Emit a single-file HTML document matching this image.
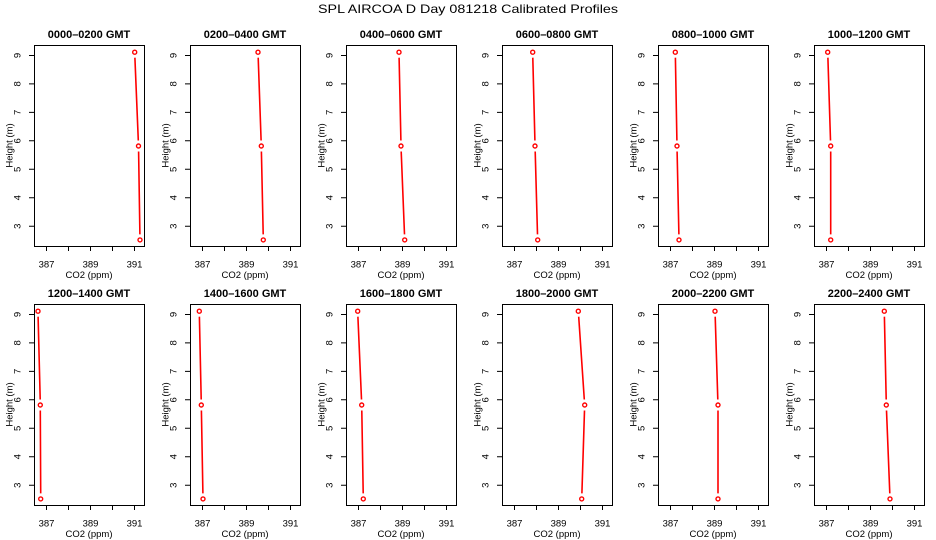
<!DOCTYPE html>
<html><head><meta charset="utf-8"><style>
html,body{margin:0;padding:0;background:#fff;}
svg{display:block;}
text{font-family:"Liberation Sans",Arial,sans-serif;fill:#000;}
.t{font-weight:bold;font-size:11px;text-anchor:middle;}
.a{font-size:9.5px;text-anchor:middle;}
.box{fill:none;stroke:#000;stroke-width:1;}
.tk{stroke:#000;stroke-width:1;}
.ln{stroke:#f00;stroke-width:1.6;fill:none;}
.pt{stroke:#f00;stroke-width:1.4;fill:none;}
</style></head><body>
<svg width="936" height="540" viewBox="0 0 936 540" xmlns="http://www.w3.org/2000/svg">
<rect width="936" height="540" fill="#fff"/>
<text x="468" y="13" style="font-size:12px;text-anchor:middle" textLength="300" lengthAdjust="spacingAndGlyphs">SPL AIRCOA D  Day 081218  Calibrated Profiles</text>

<defs>
<g id="frame">
<rect class="box" x="34.5" y="45.5" width="110" height="201"/>
<path class="tk" d="M46.5 246v5M68.5 246v5M90.5 246v5M112.5 246v5M134.5 246v5M29 55.5h5M29 83.9h5M29 112.4h5M29 140.8h5M29 169.3h5M29 197.7h5M29 226.2h5"/>
<text class="a" x="46.5" y="267.5">387</text>
<text class="a" x="90.5" y="267.5">389</text>
<text class="a" x="134.5" y="267.5">391</text>
<text class="a" x="89" y="278">CO2 (ppm)</text>
<text class="a" transform="translate(17,55.5) rotate(-90)" dy="0.35em">9</text>
<text class="a" transform="translate(17,83.9) rotate(-90)" dy="0.35em">8</text>
<text class="a" transform="translate(17,112.4) rotate(-90)" dy="0.35em">7</text>
<text class="a" transform="translate(17,140.8) rotate(-90)" dy="0.35em">6</text>
<text class="a" transform="translate(17,169.3) rotate(-90)" dy="0.35em">5</text>
<text class="a" transform="translate(17,197.7) rotate(-90)" dy="0.35em">4</text>
<text class="a" transform="translate(17,226.2) rotate(-90)" dy="0.35em">3</text>
<text class="a" transform="translate(9,145.5) rotate(-90)" dy="0.35em">Height (m)</text>
</g>
</defs>

<!-- Row 1 -->
<g transform="translate(0,0)">
<use href="#frame"/>
<text class="t" x="89" y="38">0000–0200 GMT</text>
<path class="ln" d="M134.9 57.7L138.3 140.5M138.6 151.5L139.9 234.4"/>
<circle class="pt" cx="134.7" cy="52.2" r="2"/><circle class="pt" cx="138.5" cy="146" r="2"/><circle class="pt" cx="140" cy="239.9" r="2"/>
</g>
<g transform="translate(156,0)">
<use href="#frame"/>
<text class="t" x="89" y="38">0200–0400 GMT</text>
<path class="ln" d="M102.2 57.7L105.1 140.5M105.4 151.5L107.2 234.4"/>
<circle class="pt" cx="102" cy="52.2" r="2"/><circle class="pt" cx="105.3" cy="146" r="2"/><circle class="pt" cx="107.3" cy="239.9" r="2"/>
</g>
<g transform="translate(312,0)">
<use href="#frame"/>
<text class="t" x="89" y="38">0400–0600 GMT</text>
<path class="ln" d="M87.1 57.7L88.9 140.5M89.2 151.5L92.5 234.4"/>
<circle class="pt" cx="87" cy="52.2" r="2"/><circle class="pt" cx="89" cy="146" r="2"/><circle class="pt" cx="92.7" cy="239.9" r="2"/>
</g>
<g transform="translate(468,0)">
<use href="#frame"/>
<text class="t" x="89" y="38">0600–0800 GMT</text>
<path class="ln" d="M64.8 57.7L66.9 140.5M67.2 151.5L69.5 234.4"/>
<circle class="pt" cx="64.7" cy="52.2" r="2"/><circle class="pt" cx="67" cy="146" r="2"/><circle class="pt" cx="69.7" cy="239.9" r="2"/>
</g>
<g transform="translate(624,0)">
<use href="#frame"/>
<text class="t" x="89" y="38">0800–1000 GMT</text>
<path class="ln" d="M51.4 57.7L52.9 140.5M53.1 151.5L54.9 234.4"/>
<circle class="pt" cx="51.3" cy="52.2" r="2"/><circle class="pt" cx="53" cy="146" r="2"/><circle class="pt" cx="55" cy="239.9" r="2"/>
</g>
<g transform="translate(780,0)">
<use href="#frame"/>
<text class="t" x="89" y="38">1000–1200 GMT</text>
<path class="ln" d="M47.9 57.7L50.5 140.5M50.7 151.5L50.7 234.4"/>
<circle class="pt" cx="47.7" cy="52.2" r="2"/><circle class="pt" cx="50.7" cy="146" r="2"/><circle class="pt" cx="50.7" cy="239.9" r="2"/>
</g>

<!-- Row 2 -->
<g transform="translate(0,259)">
<use href="#frame"/>
<text class="t" x="89" y="38">1200–1400 GMT</text>
<path class="ln" d="M38.1 57.7L40.2 140.5M40.3 151.5L40.7 234.4"/>
<circle class="pt" cx="38" cy="52.2" r="2"/><circle class="pt" cx="40.3" cy="146" r="2"/><circle class="pt" cx="40.7" cy="239.9" r="2"/>
</g>
<g transform="translate(156,259)">
<use href="#frame"/>
<text class="t" x="89" y="38">1400–1600 GMT</text>
<path class="ln" d="M43.4 57.7L45.2 140.5M45.4 151.5L46.9 234.4"/>
<circle class="pt" cx="43.3" cy="52.2" r="2"/><circle class="pt" cx="45.3" cy="146" r="2"/><circle class="pt" cx="47" cy="239.9" r="2"/>
</g>
<g transform="translate(312,259)">
<use href="#frame"/>
<text class="t" x="89" y="38">1600–1800 GMT</text>
<path class="ln" d="M45.9 57.7L49.5 140.5M49.8 151.5L51.2 234.4"/>
<circle class="pt" cx="45.7" cy="52.2" r="2"/><circle class="pt" cx="49.7" cy="146" r="2"/><circle class="pt" cx="51.3" cy="239.9" r="2"/>
</g>
<g transform="translate(468,259)">
<use href="#frame"/>
<text class="t" x="89" y="38">1800–2000 GMT</text>
<path class="ln" d="M110.7 57.7L116.3 140.5M116.5 151.5L113.9 234.4"/>
<circle class="pt" cx="110.3" cy="52.2" r="2"/><circle class="pt" cx="116.7" cy="146" r="2"/><circle class="pt" cx="113.7" cy="239.9" r="2"/>
</g>
<g transform="translate(624,259)">
<use href="#frame"/>
<text class="t" x="89" y="38">2000–2200 GMT</text>
<path class="ln" d="M91.2 57.7L93.8 140.5M94 151.5L94 234.4"/>
<circle class="pt" cx="91" cy="52.2" r="2"/><circle class="pt" cx="94" cy="146" r="2"/><circle class="pt" cx="94" cy="239.9" r="2"/>
</g>
<g transform="translate(780,259)">
<use href="#frame"/>
<text class="t" x="89" y="38">2200–2400 GMT</text>
<path class="ln" d="M104.4 57.7L106.2 140.5M106.5 151.5L109.8 234.4"/>
<circle class="pt" cx="104.3" cy="52.2" r="2"/><circle class="pt" cx="106.3" cy="146" r="2"/><circle class="pt" cx="110" cy="239.9" r="2"/>
</g>
</svg>
</body></html>
